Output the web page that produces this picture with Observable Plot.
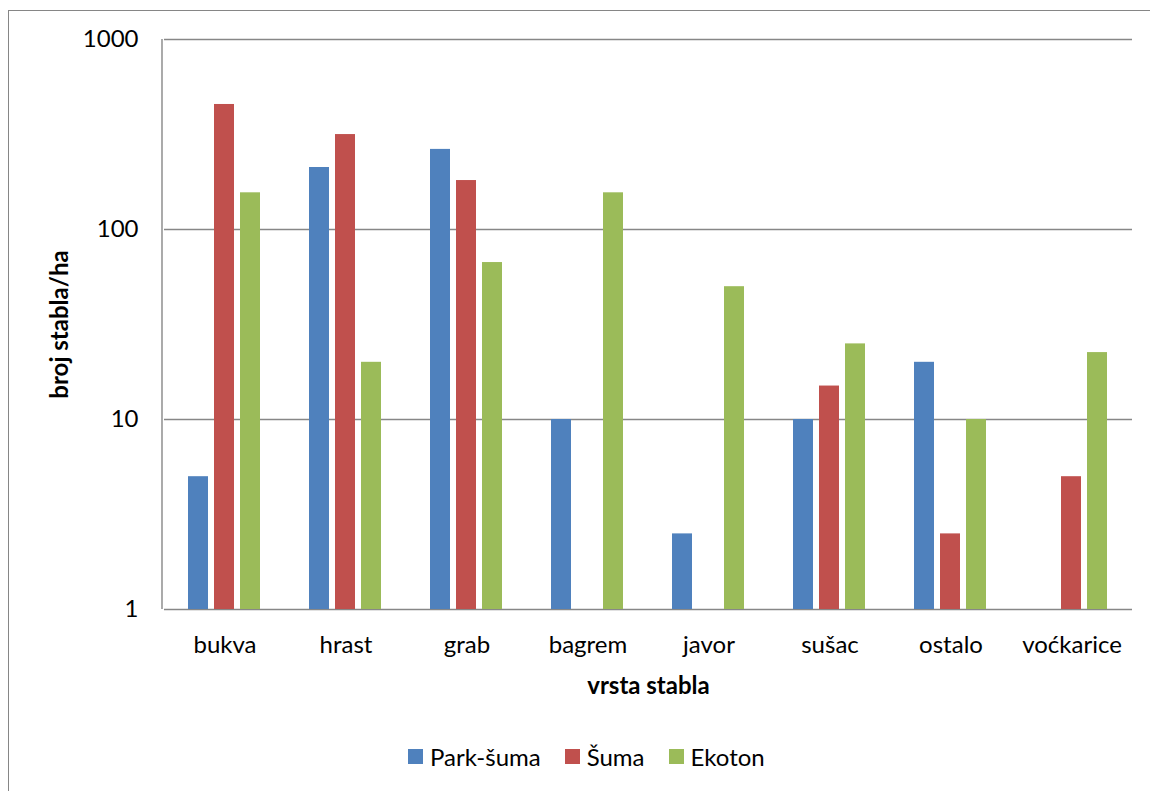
<!DOCTYPE html>
<html>
<head>
<meta charset="utf-8">
<script src="https://cdn.jsdelivr.net/npm/d3@7"></script>
<script src="https://cdn.jsdelivr.net/npm/@observablehq/plot@0.6"></script>
<style>
  html, body { margin: 0; padding: 0; background: #fff; overflow: hidden; }
  #wrap { position: relative; width: 1150px; height: 791px; overflow: hidden; background: #fff; font-family: Lato, "Open Sans", sans-serif; }
  #frame { position: absolute; left: 8px; top: 10px; width: 1300px; height: 1000px; border-left: 1.5px solid #868686; border-top: 1.5px solid #868686; }
  #chart { position: absolute; left: 0; top: 0; }
  #legend { position: absolute; top: 742px; left: 408px; display: flex; align-items: center; font-size: 24px; color: #000; white-space: nowrap; }
  .item { display: flex; align-items: center; margin-right: 24px; }
  .sw { width: 15px; height: 15px; margin-right: 7px; }
</style>
</head>
<body>
<div id="wrap">
  <div id="frame"></div>
  <div id="chart"></div>
  <div id="legend"></div>
</div>
<script>
const categories = ["bukva", "hrast", "grab", "bagrem", "javor", "sušac", "ostalo", "voćkarice"];
const seriesNames = ["Park-šuma", "Šuma", "Ekoton"];
const parkSuma = [5, 212, 264, 10, 2.5, 10, 20, null];
const suma = [455, 316, 181, null, null, 15, 2.5, 5];
const ekoton = [156, 20, 67, 156, 50, 25, 10, 22.5];
const yTicks = [1, 10, 100, 1000];
const seriesColors = ["#4F81BD", "#C0504D", "#9BBB59"];
const yTitle = "broj stabla/ha";
const xTitle = "vrsta stabla";

const seriesValues = [parkSuma, suma, ekoton];
const rows = [];
categories.forEach((c, i) => {
  seriesNames.forEach((s, j) => {
    const v = seriesValues[j][i];
    if (v != null) rows.push({category: c, series: s, value: v});
  });
});

const W = 1150, H = 720, mL = 162, mR = 17, mT = 39, mB = 111;
const font = "Lato, 'Open Sans', sans-serif";

const plot = Plot.plot({
  width: W,
  height: H,
  marginLeft: mL,
  marginRight: mR,
  marginTop: mT,
  marginBottom: mB,
  style: {fontFamily: font, fontSize: "24px", color: "#000", background: "transparent", overflow: "visible"},
  fx: {
    domain: categories, padding: 0, tickSize: 0, tickPadding: 26,
    label: xTitle, labelAnchor: "center", labelOffset: 84, labelArrow: "none"
  },
  x: {domain: seriesNames, paddingInner: 0.222, paddingOuter: 0.859, axis: null},
  y: {
    type: "log", domain: [1, 1000], ticks: yTicks, tickFormat: d => String(d),
    tickSize: 0, tickPadding: 26,
    label: yTitle, labelAnchor: "center", labelOffset: 114, labelArrow: "none"
  },
  color: {domain: seriesNames, range: seriesColors},
  marks: [
    Plot.ruleY(yTicks, {stroke: "#878787", strokeWidth: 1.4}),
    Plot.barY(rows, {fx: "category", x: "series", y1: 1, y2: "value", fill: "series"})
  ]
});

const svg = d3.select(plot);
svg.selectAll("[aria-label$='axis label']").style("font-weight", "bold");
const ys = plot.scale("y");
svg.append("line")
  .attr("x1", mL).attr("x2", mL)
  .attr("y1", ys.apply(1000)).attr("y2", ys.apply(1))
  .attr("stroke", "#878787").attr("stroke-width", 1.4);

document.getElementById("chart").appendChild(plot);

const legend = d3.select("#legend");
seriesNames.forEach((s, i) => {
  const it = legend.append("div").attr("class", "item");
  it.append("div").attr("class", "sw").style("background", seriesColors[i]);
  it.append("span").text(s);
});
</script>
</body>
</html>
